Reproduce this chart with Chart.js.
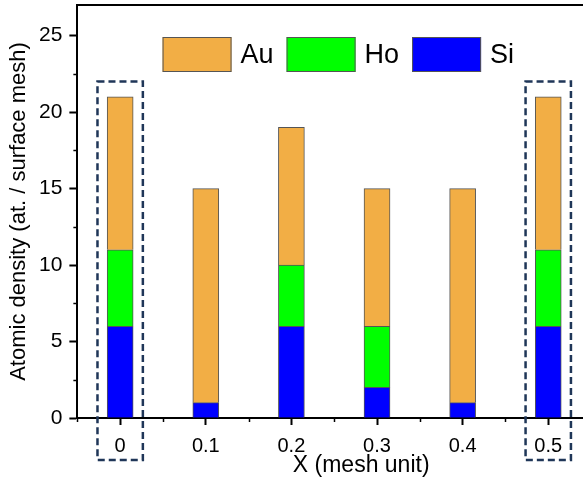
<!DOCTYPE html>
<html>
<head>
<meta charset="utf-8">
<script src="https://cdn.jsdelivr.net/npm/chart.js@4/dist/chart.umd.min.js"></script>
<style>
  html, body { margin: 0; padding: 0; background: #fff; overflow: hidden; }
  #wrap { width: 645px; height: 483px; position: relative; }
</style>
</head>
<body>
<div id="wrap"><canvas id="chart"></canvas></div>
<script>
// data
const categories = [0, 0.1, 0.2, 0.3, 0.4, 0.5];
const xTickLabels = ['0', '0.1', '0.2', '0.3', '0.4', '0.5'];
const yTicks = [0, 5, 10, 15, 20, 25];
const siValues = [6, 1, 6, 2, 1, 6];
const hoValues = [5, 0, 4, 4, 0, 5];
const auValues = [10, 14, 9, 9, 14, 10];
const boxedCategories = [0, 0.5];

const FONT = '"Liberation Sans", Arial, sans-serif';
const X_MIN = -0.05, X_MAX = 0.613;

function pts(values) {
    return categories.map((c, i) => ({ x: c, y: values[i] }));
}

// labels sit inside the range, so no edge padding is needed
function noEdgePadding(axis) {
    axis.paddingTop = 0;
    axis.paddingBottom = 0;
    axis.paddingLeft = 0;
    axis.paddingRight = 0;
}

// extra drawing: frame top, minor ticks, dashed boxes, legend inside the plot
const decorations = {
    id: 'decorations',
    afterDraw(chart) {
        const ctx = chart.ctx;
        const area = chart.chartArea;
        const xs = chart.scales.x;
        const ys = chart.scales.y;
        ctx.save();
        ctx.strokeStyle = '#000';
        ctx.lineWidth = 2;
        ctx.beginPath();
        ctx.moveTo(area.left - 1, area.top);
        ctx.lineTo(area.right, area.top);
        ctx.stroke();

        // minor ticks
        ctx.lineWidth = 1.5;
        for (let v = 2.5; v < 27; v += 5) {
            const py = Math.round(ys.getPixelForValue(v)) + 0.5;
            ctx.beginPath();
            ctx.moveTo(area.left, py);
            ctx.lineTo(area.left - 4, py);
            ctx.stroke();
        }
        for (let v = -0.05; v < X_MAX; v += 0.1) {
            const px = Math.round(xs.getPixelForValue(v)) + 0.5;
            ctx.beginPath();
            ctx.moveTo(px, area.bottom);
            ctx.lineTo(px, area.bottom + 4);
            ctx.stroke();
        }

        // dashed boxes round the end bars
        ctx.strokeStyle = '#1f3658';
        ctx.lineWidth = 2.5;
        ctx.setLineDash([7, 4]);
        boxedCategories.forEach(c => {
            const l = xs.getPixelForValue(c - 0.0265);
            const r = xs.getPixelForValue(c + 0.0265);
            const t = ys.getPixelForValue(22);
            const b = area.bottom + 42;
            ctx.strokeRect(l, t, r - l, b - t);
        });
        ctx.setLineDash([]);

        // legend (Au, Ho, Si)
        const items = chart.data.datasets.slice().reverse();
        const boxW = 69, boxH = 35, gap = 9, itemGap = 13;
        ctx.font = '27px ' + FONT;
        ctx.textBaseline = 'middle';
        let x = xs.getPixelForValue(0.0495);
        const yTop = area.top + 32;
        items.forEach(ds => {
            ctx.fillStyle = ds.backgroundColor;
            ctx.fillRect(x, yTop, boxW, boxH);
            ctx.strokeStyle = '#555555';
            ctx.lineWidth = 1;
            ctx.strokeRect(x + 0.5, yTop + 0.5, boxW - 1, boxH - 1);
            x += boxW + gap;
            ctx.fillStyle = '#000';
            ctx.fillText(ds.label, x, yTop + boxH / 2 + 1);
            x += ctx.measureText(ds.label).width + itemGap;
        });
        ctx.restore();
    }
};

const ctx = document.getElementById('chart').getContext('2d');
new Chart(ctx, {
    type: 'bar',
    data: {
        datasets: [
            { label: 'Si', data: pts(siValues), backgroundColor: '#0000ff', borderColor: '#555555', borderWidth: 1 },
            { label: 'Ho', data: pts(hoValues), backgroundColor: '#00ff00', borderColor: '#555555', borderWidth: 1 },
            { label: 'Au', data: pts(auValues), backgroundColor: '#f2ae45', borderColor: '#555555', borderWidth: 1 }
        ]
    },
    options: {
        responsive: true,
        maintainAspectRatio: false,
        animation: false,
        barThickness: 26,
        layout: { padding: { top: 5, right: 0, left: 6, bottom: 6 } },
        plugins: {
            legend: { display: false },
            tooltip: { enabled: false }
        },
        scales: {
            x: {
                type: 'linear',
                stacked: true,
                offset: false,
                min: X_MIN,
                max: X_MAX,
                afterBuildTicks: axis => { axis.ticks = categories.map(v => ({ value: v })); },
                afterFit: noEdgePadding,
                ticks: {
                    callback: (v, i) => xTickLabels[i],
                    color: '#000',
                    font: { family: FONT, size: 20, lineHeight: 1 },
                    padding: 11,
                    maxRotation: 0
                },
                grid: { offset: false, drawOnChartArea: false, tickLength: 7, tickWidth: 2, tickColor: '#000' },
                border: { color: '#000', width: 2 },
                title: { display: true, text: 'X (mesh unit)', color: '#000', font: { family: FONT, size: 23, lineHeight: 1 }, padding: { top: -13, bottom: 0 } }
            },
            y: {
                stacked: true,
                min: 0,
                max: 27,
                afterBuildTicks: axis => { axis.ticks = yTicks.map(v => ({ value: v })); },
                afterFit: noEdgePadding,
                ticks: {
                    color: '#000',
                    font: { family: FONT, size: 21 },
                    padding: 7
                },
                grid: { drawOnChartArea: false, tickLength: 8, tickWidth: 2, tickColor: '#000' },
                border: { color: '#000', width: 2 },
                title: { display: true, text: 'Atomic density (at. / surface mesh)', color: '#000', font: { family: FONT, size: 22, lineHeight: 1 }, padding: 2 }
            }
        }
    },
    plugins: [decorations]
});
</script>
</body>
</html>
